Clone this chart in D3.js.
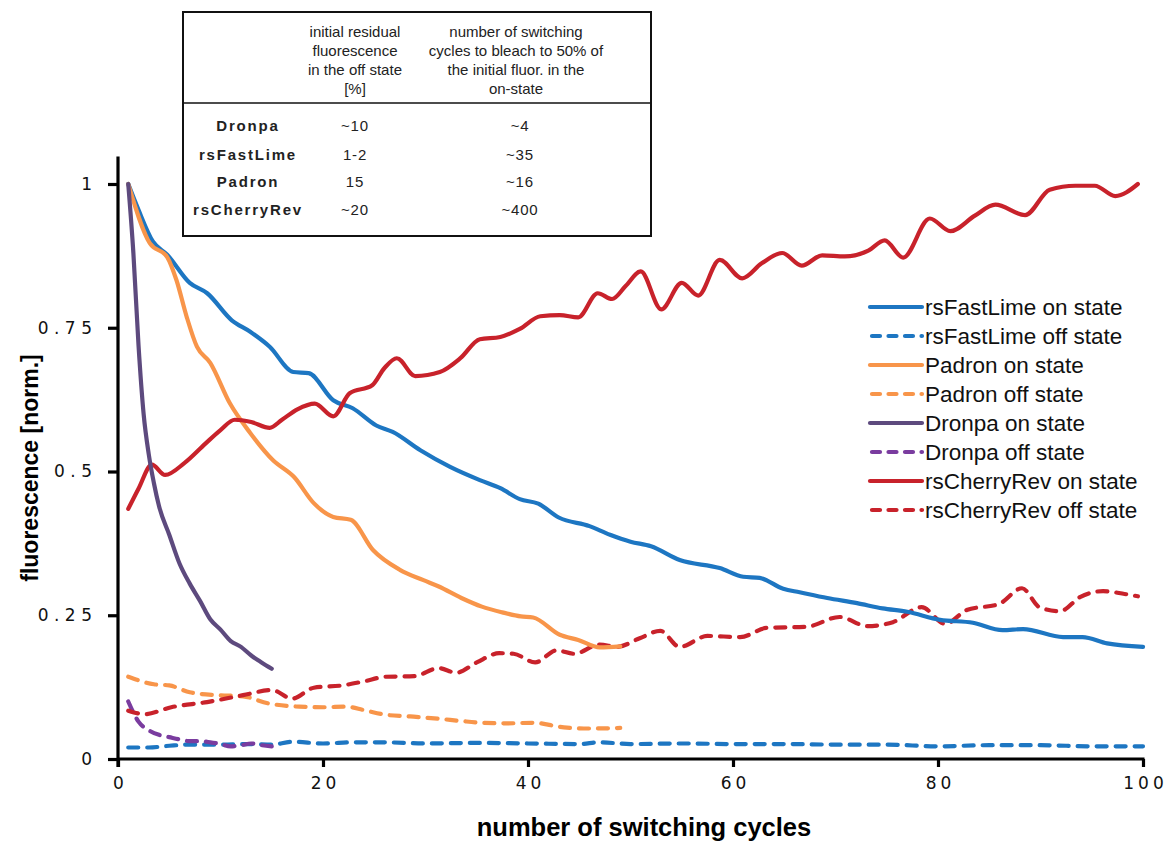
<!DOCTYPE html>
<html>
<head>
<meta charset="utf-8">
<script src="https://cdn.jsdelivr.net/npm/d3@7"></script>
<style>
  html, body { margin: 0; padding: 0; background: #fff; }
  svg { display: block; }
</style>
</head>
<body>
<svg id="chart" width="1173" height="841"></svg>
<script>
// Normalised fluorescence vs. number of switching cycles, [cycle, value]
const fastLimeOn = [[1,1.0],[2,0.955],[3.4,0.9],[4.8,0.877],[7,0.828],[8.7,0.81],[11.1,0.763],[12.9,0.743],[14.8,0.717],[17.1,0.673],[18.6,0.671],[21,0.624],[22.9,0.61],[25.2,0.58],[26.8,0.569],[29.5,0.537],[32.4,0.508],[35.3,0.485],[37.3,0.471],[39.2,0.452],[41,0.444],[43,0.42],[46,0.405],[48,0.39],[50,0.378],[52,0.37],[54.8,0.346],[58.7,0.332],[61,0.317],[62.6,0.315],[64.9,0.296],[66.5,0.29],[69.2,0.28],[72.1,0.271],[74.6,0.262],[77,0.256],[80.2,0.242],[83.4,0.237],[86.3,0.224],[88.3,0.226],[92.2,0.212],[94.1,0.212],[96.5,0.201],[100,0.195]];
const fastLimeOff = [[1,0.02],[3,0.02],[5,0.023],[7,0.025],[10,0.025],[13,0.026],[15,0.025],[17,0.03],[20,0.027],[23,0.029],[26,0.029],[30,0.027],[35,0.028],[40,0.027],[45,0.026],[47,0.029],[50,0.026],[55,0.027],[60,0.026],[65,0.026],[70,0.025],[75,0.025],[80,0.022],[85,0.024],[90,0.024],[95,0.022],[100,0.022]];
const padronOn = [[1,1.0],[3.1,0.897],[4.8,0.873],[5.7,0.833],[6.7,0.769],[7.7,0.717],[9,0.689],[10.9,0.619],[12.9,0.567],[15.1,0.52],[17.2,0.49],[19.1,0.445],[21,0.421],[22.7,0.416],[24.9,0.363],[27.5,0.329],[29.8,0.311],[31.3,0.3],[33.5,0.28],[35.5,0.265],[37.5,0.255],[39.3,0.248],[40.5,0.246],[43.1,0.216],[44.9,0.207],[47,0.194],[49,0.196]];
const padronOff = [[1,0.143],[3.5,0.13],[5,0.128],[7,0.116],[9.7,0.111],[12.2,0.109],[14.6,0.097],[17.7,0.091],[20,0.09],[22.3,0.091],[24,0.085],[26.1,0.077],[28.5,0.074],[31.3,0.07],[33.5,0.066],[35.5,0.063],[38,0.062],[40.5,0.063],[43.5,0.055],[46,0.053],[49,0.054]];
const dronpaOn = [[1,1.0],[1.5,0.88],[2,0.72],[2.5,0.6],[3,0.53],[3.5,0.48],[4,0.44],[5,0.39],[6,0.34],[7,0.305],[8,0.275],[9,0.243],[10,0.225],[11,0.205],[12,0.195],[13,0.18],[14,0.168],[15,0.157]];
const dronpaOff = [[1,0.1],[2,0.065],[3,0.05],[4,0.042],[5,0.038],[6,0.034],[7,0.031],[8,0.031],[9,0.029],[10,0.026],[11,0.022],[12,0.024],[13,0.027],[14,0.024],[15,0.022]];
const cherryOn = [[1,0.435],[2,0.47],[3.3,0.512],[4.6,0.494],[6.5,0.515],[8.5,0.548],[10,0.572],[11.4,0.59],[13,0.586],[14.8,0.576],[16,0.59],[17.5,0.608],[19.2,0.618],[21,0.596],[22.6,0.636],[24.8,0.65],[26,0.68],[27.2,0.697],[29,0.666],[31.4,0.673],[33.4,0.697],[35.3,0.73],[37.3,0.734],[39.2,0.748],[41.2,0.77],[43.1,0.772],[44.9,0.768],[46.8,0.81],[48.2,0.8],[49.5,0.822],[51,0.848],[53,0.782],[55,0.828],[56.6,0.806],[58.7,0.868],[60.9,0.836],[62.8,0.862],[64.8,0.88],[66.7,0.858],[68.7,0.876],[70.9,0.874],[73.2,0.884],[74.8,0.902],[76.6,0.872],[79.2,0.94],[81.2,0.918],[83.6,0.945],[85.6,0.964],[88.5,0.946],[90.9,0.99],[93.4,0.997],[95.3,0.997],[97.3,0.979],[99.5,1.0]];
const cherryOff = [[1,0.084],[2.6,0.078],[5.2,0.09],[8.7,0.099],[12.2,0.111],[15,0.12],[17,0.105],[19.1,0.124],[21.9,0.128],[24,0.135],[26.1,0.143],[28.9,0.144],[31.3,0.158],[33,0.15],[35,0.168],[37.2,0.184],[38.6,0.183],[40.7,0.168],[42.8,0.189],[44.5,0.183],[47,0.199],[48.7,0.195],[50.9,0.21],[52.9,0.223],[54.8,0.195],[57.5,0.214],[60.7,0.212],[63.3,0.228],[67.2,0.23],[70.4,0.247],[73.1,0.231],[75.6,0.238],[78.4,0.264],[80.7,0.235],[82.8,0.259],[86,0.27],[88.2,0.297],[89.9,0.264],[91.9,0.257],[93.9,0.282],[96.1,0.292],[98.2,0.287],[99.5,0.283]];

const xTicks = [0, 20, 40, 60, 80, 100];
const yTicks = [0, 0.25, 0.5, 0.75, 1];
const yTickLabels = ["0", "0.25", "0.5", "0.75", "1"];

const seriesNames = ["rsFastLime on state","rsFastLime off state","Padron on state","Padron off state","Dronpa on state","Dronpa off state","rsCherryRev on state","rsCherryRev off state"];
const seriesData = [fastLimeOn, fastLimeOff, padronOn, padronOff, dronpaOn, dronpaOff, cherryOn, cherryOff];
const seriesColors = ["#1d76c2","#1d76c2","#f8954a","#f8954a","#5d4a7e","#7a3c9f","#c8222b","#c8222b"];
const seriesDashed = [false,true,false,true,false,true,false,true];

// Summary table
const tableHeaders = [
  ["initial residual", "fluorescence", "in the off state", "[%]"],
  ["number of switching", "cycles to bleach to 50% of", "the initial fluor. in the", "on-state"]
];
const tableRows = ["Dronpa", "rsFastLime", "Padron", "rsCherryRev"];
const tableResidual = ["~10", "1-2", "15", "~20"];
const tableCycles = ["~4", "~35", "~16", "~400"];

const svg = d3.select("#chart");
const x = d3.scaleLinear().domain([0, 100]).range([118, 1143]);
const y = d3.scaleLinear().domain([0, 1]).range([759, 184]);

// Axes
const tickFont = "'DejaVu Sans', sans-serif";
const xAxis = svg.append("g").attr("transform", `translate(0,${y(0)})`)
  .call(d3.axisBottom(x).tickValues(xTicks).tickSize(8).tickSizeOuter(0).tickPadding(10));
const yAxis = svg.append("g").attr("transform", `translate(${x(0)},0)`)
  .call(d3.axisLeft(y).tickValues(yTicks).tickSize(10).tickSizeOuter(0).tickPadding(13)
    .tickFormat((d, i) => yTickLabels[i]));

// y axis runs a little past 1
yAxis.select(".domain").attr("d", `M0,${y(0) + 8}V${y(1.048)}`);
xAxis.select(".domain").attr("d", `M${x(0)},0H${x(100) + 1.5}`);

[xAxis, yAxis].forEach(g => {
  g.select(".domain").attr("stroke", "#000").attr("stroke-width", 3.2);
  g.selectAll(".tick line").attr("stroke", "#000").attr("stroke-width", 3.2);
  g.selectAll(".tick text").attr("fill", "#111")
    .style("font-family", tickFont).style("font-size", "17px");
});
xAxis.selectAll(".tick text").style("letter-spacing", "4px").attr("dx", "2px");
yAxis.selectAll(".tick text").style("letter-spacing", "5.5px").attr("dx", "2.5px");

// Curves
const line = d3.line().x(d => x(d[0])).y(d => y(d[1])).curve(d3.curveMonotoneX);
const drawOrder = [1, 3, 5, 7, 0, 2, 6, 4];
drawOrder.forEach(i => {
  svg.append("path")
    .datum(seriesData[i])
    .attr("fill", "none")
    .attr("stroke", seriesColors[i])
    .attr("stroke-width", 4.2)
    .attr("stroke-linecap", "round")
    .attr("stroke-linejoin", "round")
    .attr("stroke-dasharray", seriesDashed[i] ? "10,9" : null)
    .attr("d", line);
});

// Axis titles
svg.append("text")
  .attr("x", 644).attr("y", 836)
  .attr("text-anchor", "middle")
  .style("font-family", "'Liberation Sans', Arial, sans-serif")
  .style("font-weight", "bold").style("font-size", "25.5px")
  .text("number of switching cycles");

svg.append("text")
  .attr("transform", "translate(38,468) rotate(-90)")
  .attr("text-anchor", "middle")
  .style("font-family", "'Liberation Sans', Arial, sans-serif")
  .style("font-weight", "bold").style("font-size", "23px")
  .text("fluorescence [norm.]");

// Legend
const legend = svg.append("g").attr("transform", "translate(870,307)");
seriesNames.forEach((name, i) => {
  const g = legend.append("g").attr("transform", `translate(0,${i * 29})`);
  g.append("line")
    .attr("x1", seriesDashed[i] ? 2 : 0).attr("x2", 52).attr("y1", 0).attr("y2", 0)
    .attr("stroke", seriesColors[i]).attr("stroke-width", 4.2)
    .attr("stroke-linecap", "round")
    .attr("stroke-dasharray", seriesDashed[i] ? "8,8.5" : null);
  g.append("text")
    .attr("x", 55).attr("y", 8)
    .style("font-family", "'Liberation Sans', Arial, sans-serif")
    .style("font-size", "22.5px").attr("fill", "#111")
    .text(name);
});

// Table
const table = svg.append("g");
table.append("rect")
  .attr("x", 183).attr("y", 12).attr("width", 468).attr("height", 224)
  .attr("fill", "#fff").attr("stroke", "#111").attr("stroke-width", 2);
table.append("line")
  .attr("x1", 183).attr("x2", 651).attr("y1", 103).attr("y2", 103)
  .attr("stroke", "#111").attr("stroke-width", 1.5);
const colX = [355, 516];
tableHeaders.forEach((lines, c) => {
  lines.forEach((t, k) => {
    table.append("text")
      .attr("x", colX[c]).attr("y", 37 + k * 19)
      .attr("text-anchor", "middle")
      .style("font-family", "'Liberation Sans', Arial, sans-serif")
      .style("font-size", "15px").attr("fill", "#222")
      .text(t);
  });
});
const rowY = [131, 160, 187, 215];
tableRows.forEach((name, r) => {
  table.append("text")
    .attr("x", 248).attr("y", rowY[r]).attr("text-anchor", "middle")
    .style("font-family", "'Liberation Sans', Arial, sans-serif")
    .style("font-weight", "bold").style("font-size", "15px")
    .style("letter-spacing", "1.8px").attr("fill", "#222")
    .text(name);
  table.append("text")
    .attr("x", 355).attr("y", rowY[r]).attr("text-anchor", "middle")
    .style("font-family", "'Liberation Sans', Arial, sans-serif")
    .style("font-size", "15px").style("letter-spacing", "0.8px").attr("fill", "#222")
    .text(tableResidual[r]);
  table.append("text")
    .attr("x", 520).attr("y", rowY[r]).attr("text-anchor", "middle")
    .style("font-family", "'Liberation Sans', Arial, sans-serif")
    .style("font-size", "15px").style("letter-spacing", "0.8px").attr("fill", "#222")
    .text(tableCycles[r]);
});
</script>
</body>
</html>
